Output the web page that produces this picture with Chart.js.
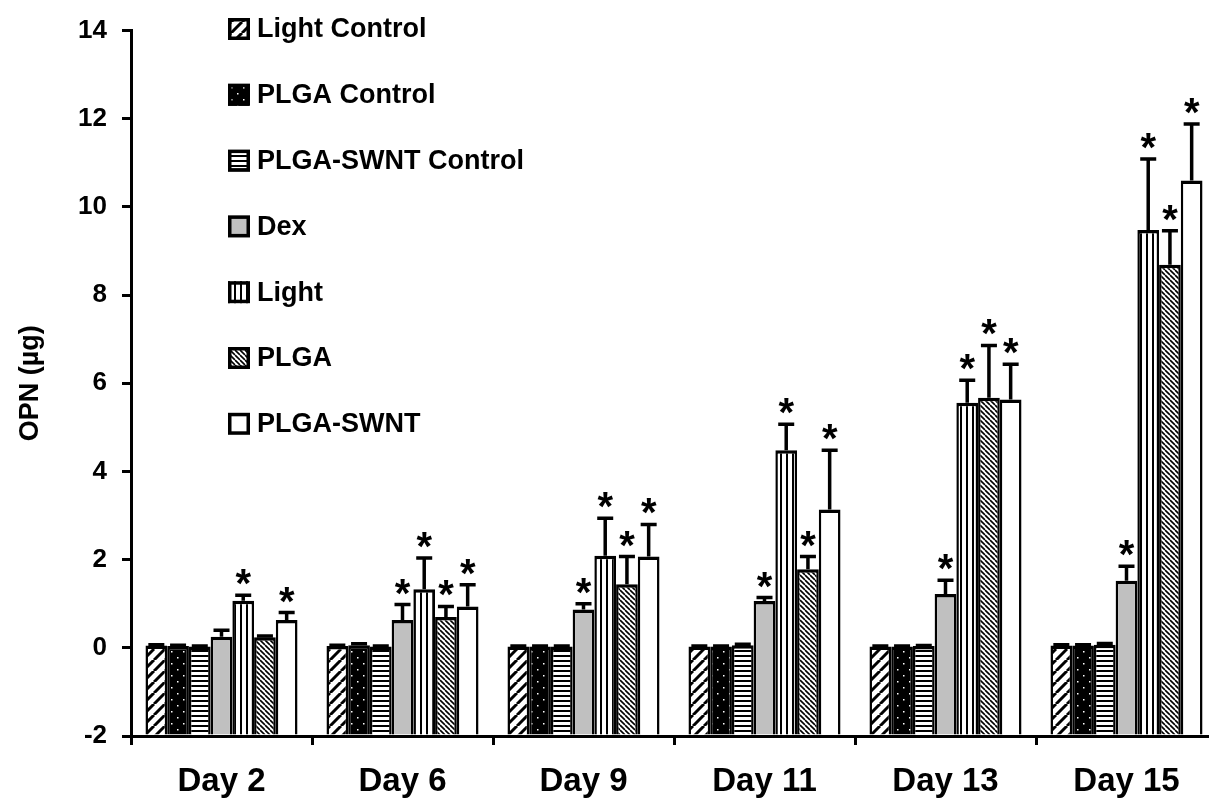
<!DOCTYPE html>
<html>
<head>
<meta charset="utf-8">
<script src="https://cdn.jsdelivr.net/npm/chart.js@4"></script>
<style>
  html, body { margin: 0; padding: 0; background: #fff; overflow: hidden; }
  #wrap { width: 1220px; height: 808px; }
</style>
</head>
<body>
<div id="wrap"><canvas id="myChart" width="1220" height="808"></canvas></div>
<script>
// Categories and series (OPN in µg)
const days = ["Day 2", "Day 6", "Day 9", "Day 11", "Day 13", "Day 15"];
const seriesNames = ["Light Control", "PLGA Control", "PLGA-SWNT Control", "Dex", "Light", "PLGA", "PLGA-SWNT"];

const lightControl    = [0.05, 0.04, 0.03, 0.03, 0.03, 0.05];
const plgaControl     = [0.04, 0.06, 0.03, 0.03, 0.03, 0.05];
const plgaSwntControl = [0.03, 0.03, 0.03, 0.06, 0.04, 0.07];
const dex             = [0.25, 0.63, 0.87, 1.06, 1.22, 1.52];
const light           = [1.07, 1.33, 2.09, 4.48, 5.56, 9.48];
const plga            = [0.24, 0.70, 1.44, 1.78, 5.67, 8.69];
const plgaSwnt        = [0.63, 0.94, 2.07, 3.14, 5.63, 10.60];

// upper error bars (SD)
const lightControlErr    = [0.02, 0.02, 0.01, 0.01, 0.01, 0.02];
const plgaControlErr     = [0.02, 0.03, 0.01, 0.01, 0.01, 0.02];
const plgaSwntControlErr = [0.01, 0.01, 0.01, 0.02, 0.01, 0.03];
const dexErr             = [0.15, 0.35, 0.13, 0.08, 0.31, 0.33];
const lightErr           = [0.12, 0.71, 0.85, 0.59, 0.51, 1.61];
const plgaErr            = [0.03, 0.24, 0.63, 0.29, 1.19, 0.77];
const plgaSwntErr        = [0.17, 0.49, 0.73, 1.34, 0.80, 1.28];

// significance marks (*)
const noStars       = [0, 0, 0, 0, 0, 0];
const dexStars      = [0, 1, 1, 1, 1, 1];
const lightStars    = [1, 1, 1, 1, 1, 1];
const plgaStars     = [0, 1, 1, 1, 1, 1];
const plgaSwntStars = [1, 1, 1, 1, 1, 1];

const yTicks = [-2, 0, 2, 4, 6, 8, 10, 12, 14];

const FONT = "'Liberation Sans', Arial, sans-serif";
const canvas = document.getElementById('myChart');
const ctx = canvas.getContext('2d');

// build a small repeating tile for hatched fills
function makePattern(w, h, bg, draw) {
  const c = document.createElement('canvas');
  c.width = w; c.height = h;
  const g = c.getContext('2d');
  g.fillStyle = bg;
  g.fillRect(0, 0, w, h);
  g.strokeStyle = '#000';
  g.fillStyle = '#000';
  draw(g, w, h);
  return ctx.createPattern(c, 'repeat');
}

const fills = [
  // Light Control: thick forward diagonals
  makePattern(11, 11, '#fff', (g, s) => {
    g.lineWidth = 3;
    g.beginPath();
    for (const k of [-s, 0, s]) { g.moveTo(k, s); g.lineTo(k + s, 0); }
    g.stroke();
  }),
  // PLGA Control: black with white dots
  makePattern(12, 12, '#000', (g) => {
    g.fillStyle = '#fff';
    g.fillRect(3, 3, 1.5, 1.5);
    g.fillRect(9, 9, 1.5, 1.5);
  }),
  // PLGA-SWNT Control: horizontal lines
  makePattern(6, 5, '#fff', (g, w) => {
    g.fillRect(0, 0, w, 2);
  }),
  '#c0c0c0',
  // Light: vertical lines
  makePattern(6, 6, '#fff', (g, w, h) => {
    g.fillRect(0, 0, 2, h);
  }),
  // PLGA: dense back diagonals
  makePattern(5, 5, '#fff', (g, s) => {
    g.lineWidth = 1.6;
    g.beginPath();
    for (const k of [-s, 0, s]) { g.moveTo(k, 0); g.lineTo(k + s, s); }
    g.stroke();
  }),
  '#fff'
];

const values = [lightControl, plgaControl, plgaSwntControl, dex, light, plga, plgaSwnt];
const errors = [lightControlErr, plgaControlErr, plgaSwntControlErr, dexErr, lightErr, plgaErr, plgaSwntErr];
const stars  = [noStars, noStars, noStars, dexStars, lightStars, plgaStars, plgaSwntStars];

const datasets = seriesNames.map((name, i) => ({
  label: name,
  data: values[i],
  errors: errors[i],
  stars: stars[i],
  backgroundColor: fills[i],
  borderColor: '#000',
  borderWidth: { top: 3.5, left: 2.5, right: 2.5, bottom: 0 },
  borderSkipped: 'start',
  base: -2,
  barPercentage: 1.0,
  categoryPercentage: 0.84
}));

// error bars and asterisks
const errorBarPlugin = {
  id: 'errorBars',
  afterDatasetsDraw(chart) {
    const c = chart.ctx;
    const yScale = chart.scales.y;
    c.save();
    c.strokeStyle = '#000';
    c.fillStyle = '#000';
    c.lineWidth = 3.5;
    chart.data.datasets.forEach((ds, di) => {
      const meta = chart.getDatasetMeta(di);
      meta.data.forEach((bar, i) => {
        const top = ds.data[i] + ds.errors[i];
        const yTop = yScale.getPixelForValue(top);
        c.beginPath();
        c.moveTo(bar.x, bar.y);
        c.lineTo(bar.x, yTop);
        c.moveTo(bar.x - 8, yTop);
        c.lineTo(bar.x + 8, yTop);
        c.stroke();
        if (ds.stars[i]) {
          c.font = 'bold 40px ' + FONT;
          c.textAlign = 'center';
          c.textBaseline = 'alphabetic';
          c.fillText('*', bar.x, yTop + 2);
        }
      });
    });
    c.restore();
  }
};

// legend stacked inside the plot, top-left
const legendPlugin = {
  id: 'stackLegend',
  afterDraw(chart) {
    const c = chart.ctx;
    c.save();
    chart.data.datasets.forEach((ds, i) => {
      const cy = 29 + i * 65.8;
      c.fillStyle = ds.backgroundColor;
      c.fillRect(228, cy - 11, 22, 22);
      c.strokeStyle = '#000';
      c.lineWidth = 3.5;
      c.strokeRect(229.75, cy - 9.25, 18.5, 18.5);
      c.fillStyle = '#000';
      c.font = 'bold 27px ' + FONT;
      c.textAlign = 'left';
      c.textBaseline = 'middle';
      c.fillText(ds.label, 257, cy + 1);
    });
    c.restore();
  }
};

new Chart(ctx, {
  type: 'bar',
  data: { labels: days, datasets: datasets },
  options: {
    responsive: false,
    animation: false,
    layout: { padding: { top: 25, right: 3, left: 0, bottom: 0 } },
    plugins: {
      legend: { display: false },
      tooltip: { enabled: false }
    },
    scales: {
      x: {
        offset: true,
        grid: { display: true, offset: true, drawOnChartArea: false, drawTicks: true, tickLength: 9, color: '#000', lineWidth: 3 },
        border: { display: true, color: '#000', width: 3 },
        ticks: { color: '#000', font: { family: FONT, size: 33, weight: 'bold' }, padding: 17, maxRotation: 0 },
        afterFit(scale) { scale.height = 72; }
      },
      y: {
        min: -2,
        max: 14,
        afterBuildTicks(scale) { scale.ticks = yTicks.map(v => ({ value: v })); },
        grid: { display: true, drawOnChartArea: false, drawTicks: true, tickLength: 9, color: '#000', lineWidth: 3 },
        border: { display: true, color: '#000', width: 3 },
        ticks: { color: '#000', font: { family: FONT, size: 26, weight: 'bold' }, padding: 15 },
        title: { display: true, text: 'OPN (µg)', color: '#000', font: { family: FONT, size: 27, weight: 'bold' }, padding: { top: 14, bottom: 0 } },
        afterFit(scale) { scale.width = 131; }
      }
    }
  },
  plugins: [errorBarPlugin, legendPlugin]
});
</script>
</body>
</html>
